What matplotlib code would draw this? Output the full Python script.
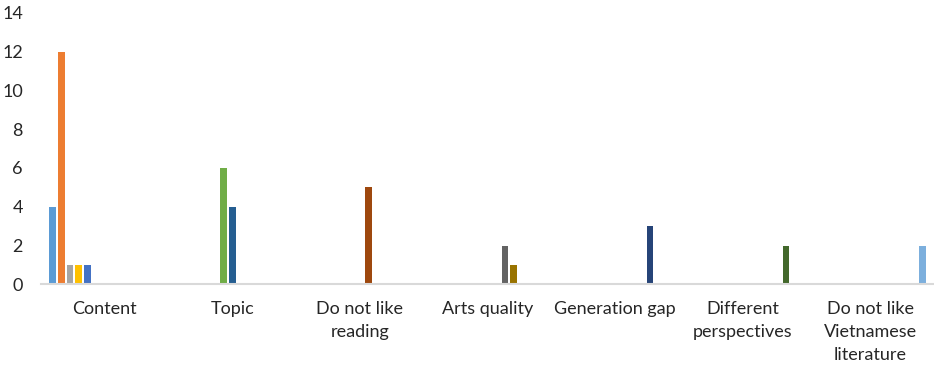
"""Reasons for not liking the reading: one bar per response code, grouped by reason."""

import matplotlib

matplotlib.use("Agg")
import matplotlib.pyplot as plt
import numpy as np

CATEGORIES = [
    "Content",
    "Topic",
    "Do not like\nreading",
    "Arts quality",
    "Generation gap",
    "Different\nperspectives",
    "Do not like\nVietnamese\nliterature",
]

# one row per series, one column per category
SERIES_VALUES = [
    [4, 0, 0, 0, 0, 0, 0],
    [12, 0, 0, 0, 0, 0, 0],
    [1, 0, 0, 0, 0, 0, 0],
    [1, 0, 0, 0, 0, 0, 0],
    [1, 0, 0, 0, 0, 0, 0],
    [0, 6, 0, 0, 0, 0, 0],
    [0, 4, 0, 0, 0, 0, 0],
    [0, 0, 5, 0, 0, 0, 0],
    [0, 0, 0, 2, 0, 0, 0],
    [0, 0, 0, 1, 0, 0, 0],
    [0, 0, 0, 0, 3, 0, 0],
    [0, 0, 0, 0, 0, 2, 0],
    [0, 0, 0, 0, 0, 0, 2],
]

SERIES_COLORS = [
    "#5B9BD5", "#ED7D31", "#A5A5A5", "#FFC000", "#4472C4", "#70AD47", "#255E91",
    "#9E480E", "#636363", "#997300", "#264478", "#43682B", "#7CAFDD",
]

TEXT_COLOR = "#262626"

plt.rcParams["font.family"] = ["Lato", "DejaVu Sans"]

fig = plt.figure(figsize=(9.34, 3.67), dpi=100)
ax = fig.add_axes([41 / 934, (367 - 284.3) / 367, 893 / 934, (284.3 - 12.7) / 367])

n_series = len(SERIES_VALUES)
slot = 1.0 / (n_series + 1.68)
x = np.arange(len(CATEGORIES))
for i, (values, color) in enumerate(zip(SERIES_VALUES, SERIES_COLORS)):
    offset = (i - (n_series - 1) / 2) * slot
    ax.bar(x + offset, values, width=slot * 0.74, color=color, linewidth=0)

ax.set_xlim(-0.5, len(CATEGORIES) - 0.5)
ax.set_ylim(0, 14)
ax.set_yticks(range(0, 15, 2))
ax.set_xticks(x, CATEGORIES, linespacing=1.55, va="top")

ax.tick_params(axis="both", length=0, labelsize=13, labelcolor=TEXT_COLOR)
ax.tick_params(axis="y", pad=13)
ax.tick_params(axis="x", pad=12)

for side in ("top", "right", "left"):
    ax.spines[side].set_visible(False)
ax.spines["bottom"].set_color("#D9D9D9")
ax.spines["bottom"].set_linewidth(1.5)

fig.savefig("out.png", dpi=100)
plt.close(fig)
